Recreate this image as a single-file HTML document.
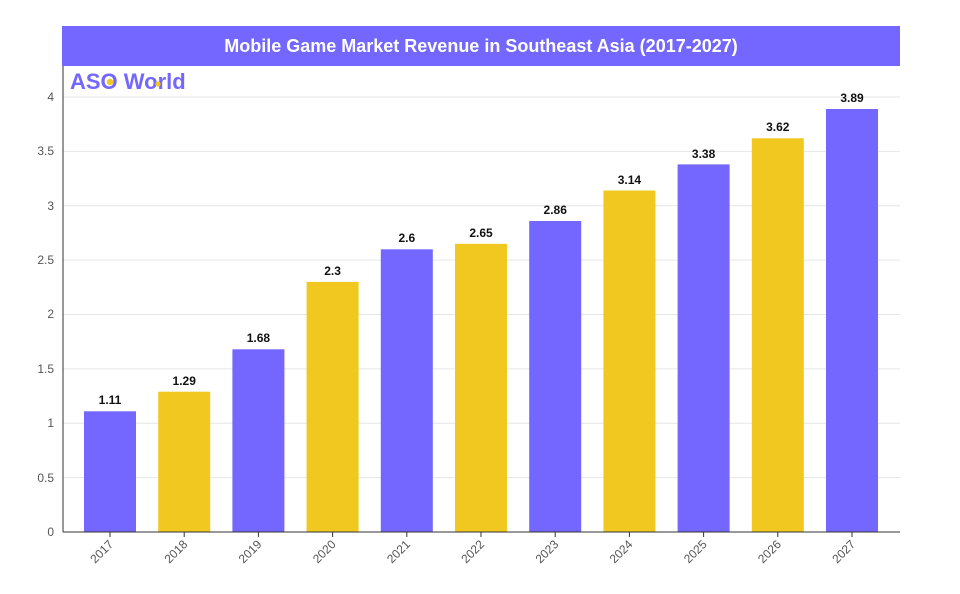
<!DOCTYPE html>
<html><head><style>body{margin:0;background:#fff}</style></head><body>
<svg width="960" height="589" xmlns="http://www.w3.org/2000/svg" font-family="Liberation Sans, Arial, sans-serif">
<rect x="62" y="26" width="838" height="40" fill="#7367ff"/>
<text x="481" y="52" text-anchor="middle" fill="#fff" font-size="18" font-weight="bold">Mobile Game Market Revenue in Southeast Asia (2017-2027)</text>
<text x="70" y="89" fill="#7367ff" font-size="22" font-weight="bold" letter-spacing="0">ASO World</text>
<circle cx="110" cy="82" r="3.2" fill="#f0c820"/>
<circle cx="158" cy="84" r="2.6" fill="#f0c820"/>
<g stroke="#e6e6e6" stroke-width="1">
<line x1="63" x2="900" y1="97" y2="97"/><line x1="63" x2="900" y1="151.4" y2="151.4"/><line x1="63" x2="900" y1="205.8" y2="205.8"/><line x1="63" x2="900" y1="260.1" y2="260.1"/><line x1="63" x2="900" y1="314.5" y2="314.5"/><line x1="63" x2="900" y1="368.9" y2="368.9"/><line x1="63" x2="900" y1="423.3" y2="423.3"/><line x1="63" x2="900" y1="477.6" y2="477.6"/>
</g>
<g font-size="12" fill="#555" text-anchor="end">
<text x="54" y="101">4</text><text x="54" y="155">3.5</text><text x="54" y="210">3</text><text x="54" y="264">2.5</text><text x="54" y="318">2</text><text x="54" y="373">1.5</text><text x="54" y="427">1</text><text x="54" y="482">0.5</text><text x="54" y="536">0</text>
</g>
<g>
<rect x="84" y="411.3" width="52" height="120.7" fill="#7367ff"/>
<rect x="158.2" y="391.7" width="52" height="140.3" fill="#f0c820"/>
<rect x="232.4" y="349.3" width="52" height="182.7" fill="#7367ff"/>
<rect x="306.6" y="281.9" width="52" height="250.1" fill="#f0c820"/>
<rect x="380.8" y="249.3" width="52" height="282.7" fill="#7367ff"/>
<rect x="455" y="243.8" width="52" height="288.2" fill="#f0c820"/>
<rect x="529.2" y="221" width="52" height="311" fill="#7367ff"/>
<rect x="603.4" y="190.5" width="52" height="341.5" fill="#f0c820"/>
<rect x="677.6" y="164.4" width="52" height="367.6" fill="#7367ff"/>
<rect x="751.8" y="138.3" width="52" height="393.7" fill="#f0c820"/>
<rect x="826" y="109" width="52" height="423" fill="#7367ff"/>
</g>
<g font-size="12" font-weight="bold" fill="#111" text-anchor="middle">
<text x="110" y="404">1.11</text>
<text x="184.2" y="385">1.29</text>
<text x="258.4" y="342">1.68</text>
<text x="332.6" y="275">2.3</text>
<text x="406.8" y="242">2.6</text>
<text x="481" y="237">2.65</text>
<text x="555.2" y="214">2.86</text>
<text x="629.4" y="184">3.14</text>
<text x="703.6" y="158">3.38</text>
<text x="777.8" y="131">3.62</text>
<text x="852" y="102">3.89</text>
</g>
<g stroke="#333">
<line x1="110" x2="110" y1="532" y2="537"/><line x1="184.2" x2="184.2" y1="532" y2="537"/><line x1="258.4" x2="258.4" y1="532" y2="537"/><line x1="332.6" x2="332.6" y1="532" y2="537"/><line x1="406.8" x2="406.8" y1="532" y2="537"/><line x1="481" x2="481" y1="532" y2="537"/><line x1="555.2" x2="555.2" y1="532" y2="537"/><line x1="629.4" x2="629.4" y1="532" y2="537"/><line x1="703.6" x2="703.6" y1="532" y2="537"/><line x1="777.8" x2="777.8" y1="532" y2="537"/><line x1="852" x2="852" y1="532" y2="537"/>
</g>
<g font-size="12" fill="#555" text-anchor="end">
<text transform="translate(114,545) rotate(-45)">2017</text>
<text transform="translate(188.2,545) rotate(-45)">2018</text>
<text transform="translate(262.4,545) rotate(-45)">2019</text>
<text transform="translate(336.6,545) rotate(-45)">2020</text>
<text transform="translate(410.8,545) rotate(-45)">2021</text>
<text transform="translate(485,545) rotate(-45)">2022</text>
<text transform="translate(559.2,545) rotate(-45)">2023</text>
<text transform="translate(633.4,545) rotate(-45)">2024</text>
<text transform="translate(707.6,545) rotate(-45)">2025</text>
<text transform="translate(781.8,545) rotate(-45)">2026</text>
<text transform="translate(856,545) rotate(-45)">2027</text>
</g>
<line x1="63" x2="63" y1="66" y2="532" stroke="#333"/>
<line x1="63" x2="900" y1="532" y2="532" stroke="#333"/>
</svg>
</body></html>
